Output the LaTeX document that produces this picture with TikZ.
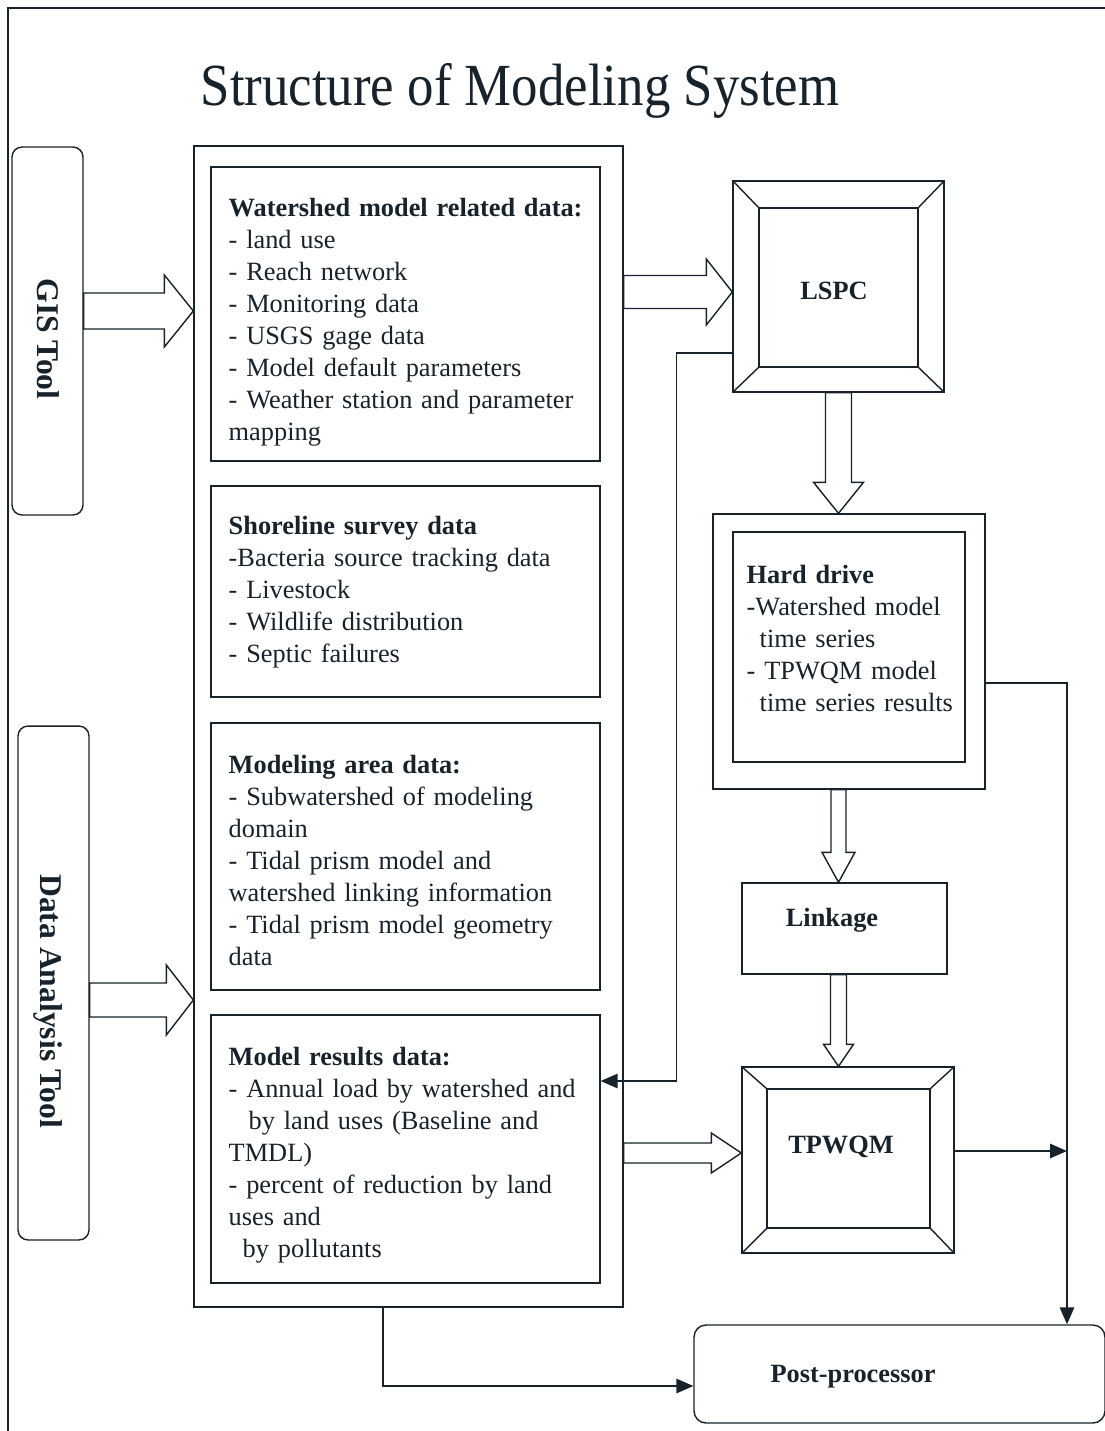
\documentclass[tikz,border=0pt]{standalone}
\usepackage{fontspec}
\setmainfont{Liberation Serif}
\usepackage{tikz}
\usetikzlibrary{calc,arrows.meta}
\definecolor{ink}{RGB}{24,34,42}

\begin{document}
\begin{tikzpicture}[x=0.02cm, y=-0.02cm, color=ink, line width=0.8pt,
  font=\fontsize{15}{18.2}\selectfont,
  frame/.style={draw, inner sep=0pt, minimum width=#1},
  label/.style={font=\fontsize{15}{18}\selectfont\bfseries},
  toolbox/.style={draw, rounded corners=0.2cm, inner sep=0pt, minimum width=1.42cm, minimum height=#1},
  tooltext/.style={font=\fontsize{18}{21}\selectfont\bfseries},
  boxtext/.style={anchor=north west, inner sep=0pt, align=left, text width=8cm},
  conn/.style={-{Triangle[length=3.4mm,width=2.9mm]}},
  blockright/.style n args={3}{draw, fill=white, to path={
    ($(\tikztostart)+(0,#1)$) -- ($(\tikztotarget)+(-#3,#1)$) -- ($(\tikztotarget)+(-#3,#2)$)
    -- (\tikztotarget) -- ($(\tikztotarget)+(-#3,-#2)$) -- ($(\tikztotarget)+(-#3,-#1)$)
    -- ($(\tikztostart)+(0,-#1)$) -- cycle}},
  blockdown/.style n args={3}{draw, fill=white, to path={
    ($(\tikztostart)+(-#1,0)$) -- ($(\tikztotarget)+(-#1,-#3)$) -- ($(\tikztotarget)+(-#2,-#3)$)
    -- (\tikztotarget) -- ($(\tikztotarget)+(#2,-#3)$) -- ($(\tikztotarget)+(#1,-#3)$)
    -- ($(\tikztostart)+(#1,0)$) -- cycle}}]
  \useasboundingbox (0,0) rectangle (1105,1431);
  \draw (1105,8) -- (8,8) -- (8,1431);
  \node[anchor=base, font=\fontsize{34}{40}\selectfont] (title) at (520,105)
    {\scalebox{0.885}[1]{Structure of Modeling System}};

  \node[toolbox=7.36cm] (gis) at (47.5,331) {};
  \node[tooltext] (gist) at (48,339) {\rotatebox{-90}{GIS Tool}};
  \node[toolbox=10.28cm] (dat) at (53.5,983) {};
  \node[tooltext] (datt) at (48,1001) {\rotatebox{-90}{Data Analysis Tool}};

  \node[frame=8.58cm, minimum height=23.22cm] (store) at (408.5,726.5) {};
  \node[frame=7.78cm, minimum height=5.88cm] (wsd) at (405.5,314) {};
  \node[boxtext] (wsdt) at (228,193.6) {\strut\textbf{Watershed model related data:}\\
    - land use\\
    - Reach network\\
    - Monitoring data\\
    - USGS gage data\\
    - Model default parameters\\
    - Weather station and parameter\\
    mapping};
  \node[frame=7.78cm, minimum height=4.22cm] (shore) at (405.5,591.5) {};
  \node[boxtext] (shoret) at (228,511.6) {\strut\textbf{Shoreline survey data}\\
    -Bacteria source tracking data\\
    - Livestock\\
    - Wildlife distribution\\
    - Septic failures};
  \node[frame=7.78cm, minimum height=5.34cm] (area) at (405.5,856.5) {};
  \node[boxtext] (areat) at (228,750.6) {\strut\textbf{Modeling area data:}\\
    - Subwatershed of modeling\\
    domain\\
    - Tidal prism model and\\
    watershed linking information\\
    - Tidal prism model geometry\\
    data};
  \node[frame=7.78cm, minimum height=5.36cm] (res) at (405.5,1149) {};
  \node[boxtext] (rest) at (228,1042.6) {\strut\textbf{Model results data:}\\
    - Annual load by watershed and\\
    \hspace*{0.4cm}by land uses (Baseline and\\
    TMDL)\\
    - percent of reduction by land\\
    uses and\\
    \hspace*{0.28cm}by pollutants};

  \node[frame=4.22cm, minimum height=4.22cm] (lspco) at (838.5,286.5) {};
  \node[frame=3.18cm, minimum height=3.18cm] (lspc) at (838.5,287.5) {};
  \node[label] (lspct) at (834,291) {LSPC};
  \draw (lspco.north west) -- (lspc.north west);
  \draw (lspco.north east) -- (lspc.north east);
  \draw (lspco.south west) -- (lspc.south west);
  \draw (lspco.south east) -- (lspc.south east);

  \node[frame=5.44cm, minimum height=5.5cm] (hdo) at (849,651.5) {};
  \node[frame=4.64cm, minimum height=4.6cm] (hd) at (849,647) {};
  \node[boxtext] (hdt) at (746,560.6) {\strut\textbf{Hard drive}\\
    -Watershed model\\
    \hspace*{0.26cm}time series\\
    - TPWQM model\\
    \hspace*{0.26cm}time series results};

  \node[frame=4.1cm, minimum height=1.82cm] (link) at (844.5,928.5) {};
  \node[label] (linkt) at (832,920) {Linkage};

  \node[frame=4.24cm, minimum height=3.72cm] (tpo) at (848,1160) {};
  \node[frame=3.26cm, minimum height=2.78cm] (tp) at (848.5,1158.5) {};
  \node[label] (tpt) at (841,1147) {TPWQM};
  \draw (tpo.north west) -- (tp.north west);
  \draw (tpo.north east) -- (tp.north east);
  \draw (tpo.south west) -- (tp.south west);
  \draw (tpo.south east) -- (tp.south east);

  \node[frame=8.22cm, minimum height=1.96cm, rounded corners=0.24cm] (post) at (899.5,1374) {};
  \node[label] (postt) at (853,1377) {Post-processor};
  \coordinate (drop) at (1067,1151);

  \draw[blockright={18}{36}{29}] (gis.east |- 0,311) to (store.west |- 0,311);
  \draw[blockright={17}{35}{27}] (dat.east |- 0,1000) to (store.west |- 0,1000);
  \draw[blockright={16.5}{33}{26}] (store.east |- 0,292) to (lspco.west |- 0,292);
  \draw[blockright={10}{20}{30}] (store.east |- 0,1153) to (tpo.west |- 0,1153);
  \draw[blockdown={13}{25}{31}] (lspco.south) to (lspco.south |- hdo.north);
  \draw[blockdown={7.5}{16.5}{30}] (lspco.south |- hdo.south) to (lspco.south |- link.north);
  \draw[blockdown={8}{15}{22}] (lspco.south |- link.south) to (lspco.south |- tpo.north);

  \draw[conn] (lspco.west |- 0,353) -- ++(-56,0) |- (res.east |- 0,1081);
  \draw[conn] (hdo.east |- 0,683) -| (drop |- post.north);
  \draw[conn] (tpo.east |- drop) -- (drop);
  \draw[conn] (383,0 |- store.south) |- (post.west |- 0,1386);
\end{tikzpicture}
\end{document}
